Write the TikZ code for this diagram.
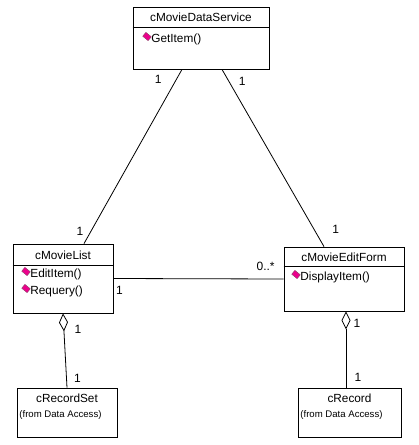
\documentclass[tikz,border=0pt]{standalone}
\usepackage{fontspec}
\setmainfont{Liberation Sans}
\usetikzlibrary{arrows.meta, positioning}

\begin{document}
\begin{tikzpicture}[x=1pt, y=-1pt, line width=0.8pt,
    classbox/.style={draw, rectangle, inner sep=0pt},
    classname/.style={font=\fontsize{11.8}{13}\selectfont, inner sep=0pt},
    opname/.style={font=\fontsize{11.8}{13}\selectfont, inner sep=0pt, anchor=west},
    fromnote/.style={font=\fontsize{9.6}{11}\selectfont, inner sep=0pt, anchor=west},
    opicon/.style={draw=black!50!magenta, fill=magenta, line width=0.4pt, rectangle,
        minimum width=7pt, minimum height=5pt, inner sep=0pt, rotate=-40},
    mult/.style={font=\fontsize{12}{14}\selectfont, inner sep=0pt},
    assoc/.style={line width=0.8pt},
    aggr/.style={line width=0.8pt, {Diamond[open, length=18pt, width=9pt, line width=0.8pt]}-}]
    \useasboundingbox[fill=white] (0,0) rectangle (419,445);

    % Class boxes
    \node[classbox, minimum width=136pt, minimum height=62pt] (ds) at (201,38) {};
    \node[classbox, minimum width=100pt, minimum height=69pt] (list) at (63,278.5) {};
    \node[classbox, minimum width=120pt, minimum height=64pt] (form) at (344,279) {};
    \node[classbox, minimum width=100pt, minimum height=49pt] (rs) at (67,412.5) {};
    \node[classbox, minimum width=103pt, minimum height=49pt] (rec) at (349.5,412.5) {};

    % Compartment lines
    \draw ([yshift=-21pt]ds.north west) -- ([yshift=-21pt]ds.north east);
    \draw ([yshift=-22pt]list.north west) -- ([yshift=-22pt]list.north east);
    \draw ([yshift=-20pt]form.north west) -- ([yshift=-20pt]form.north east);

    % Class names
    \node[classname] (dsname) at ([yshift=-11pt]ds.north) {cMovieDataService};
    \node[classname] (listname) at ([yshift=-11.5pt]list.north) {cMovieList};
    \node[classname] (formname) at ([yshift=-10.5pt]form.north) {cMovieEditForm};
    \node[classname] (rsname) at ([yshift=-11pt]rs.north) {cRecordSet};
    \node[classname] (recname) at ([yshift=-11pt]rec.north) {cRecord};
    \node[fromnote] (rsnote) at (19,415) {(from Data Access)};
    \node[fromnote] (recnote) at (300,415) {(from Data Access)};

    % Operations
    \node[opname] (getitem) at (151,39) {GetItem()};
    \node[opname] (edititem) at (30,274) {EditItem()};
    \node[opname] (requery) at (30,291) {Requery()};
    \node[opname] (displayitem) at (300,277) {DisplayItem()};
    \foreach \op in {getitem, edititem, requery, displayitem}
        \node[opicon] at ([xshift=-4pt, yshift=2.5pt]\op.west) {};

    % Associations
    \draw[assoc] ([xshift=-19pt]ds.south) -- ([xshift=21pt]list.north)
        node[mult, pos=0.06, xshift=-18pt] {1}
        node[mult, pos=0.93, xshift=-11pt] {1};
    \draw[assoc] ([xshift=21pt]ds.south) -- ([xshift=-20pt]form.north)
        node[mult, pos=0.07, xshift=13pt] {1}
        node[mult, pos=0.9, xshift=22pt] {1};
    \draw[assoc] (list.east) -- (form.west)
        node[mult, at start, xshift=6pt, yshift=-12pt] {1}
        node[mult, at end, xshift=-18pt, yshift=13pt] {0..*};

    % Aggregations
    \draw[aggr] (list.south) -- (rs.north)
        node[mult, pos=0.22, xshift=14pt] {1}
        node[mult, pos=0.87, xshift=11pt] {1};
    \draw[aggr] ([xshift=2pt]form.south) -- ([xshift=-3.5pt]rec.north)
        node[mult, pos=0.16, xshift=11pt] {1}
        node[mult, pos=0.87, xshift=12pt] {1};
\end{tikzpicture}
\end{document}
